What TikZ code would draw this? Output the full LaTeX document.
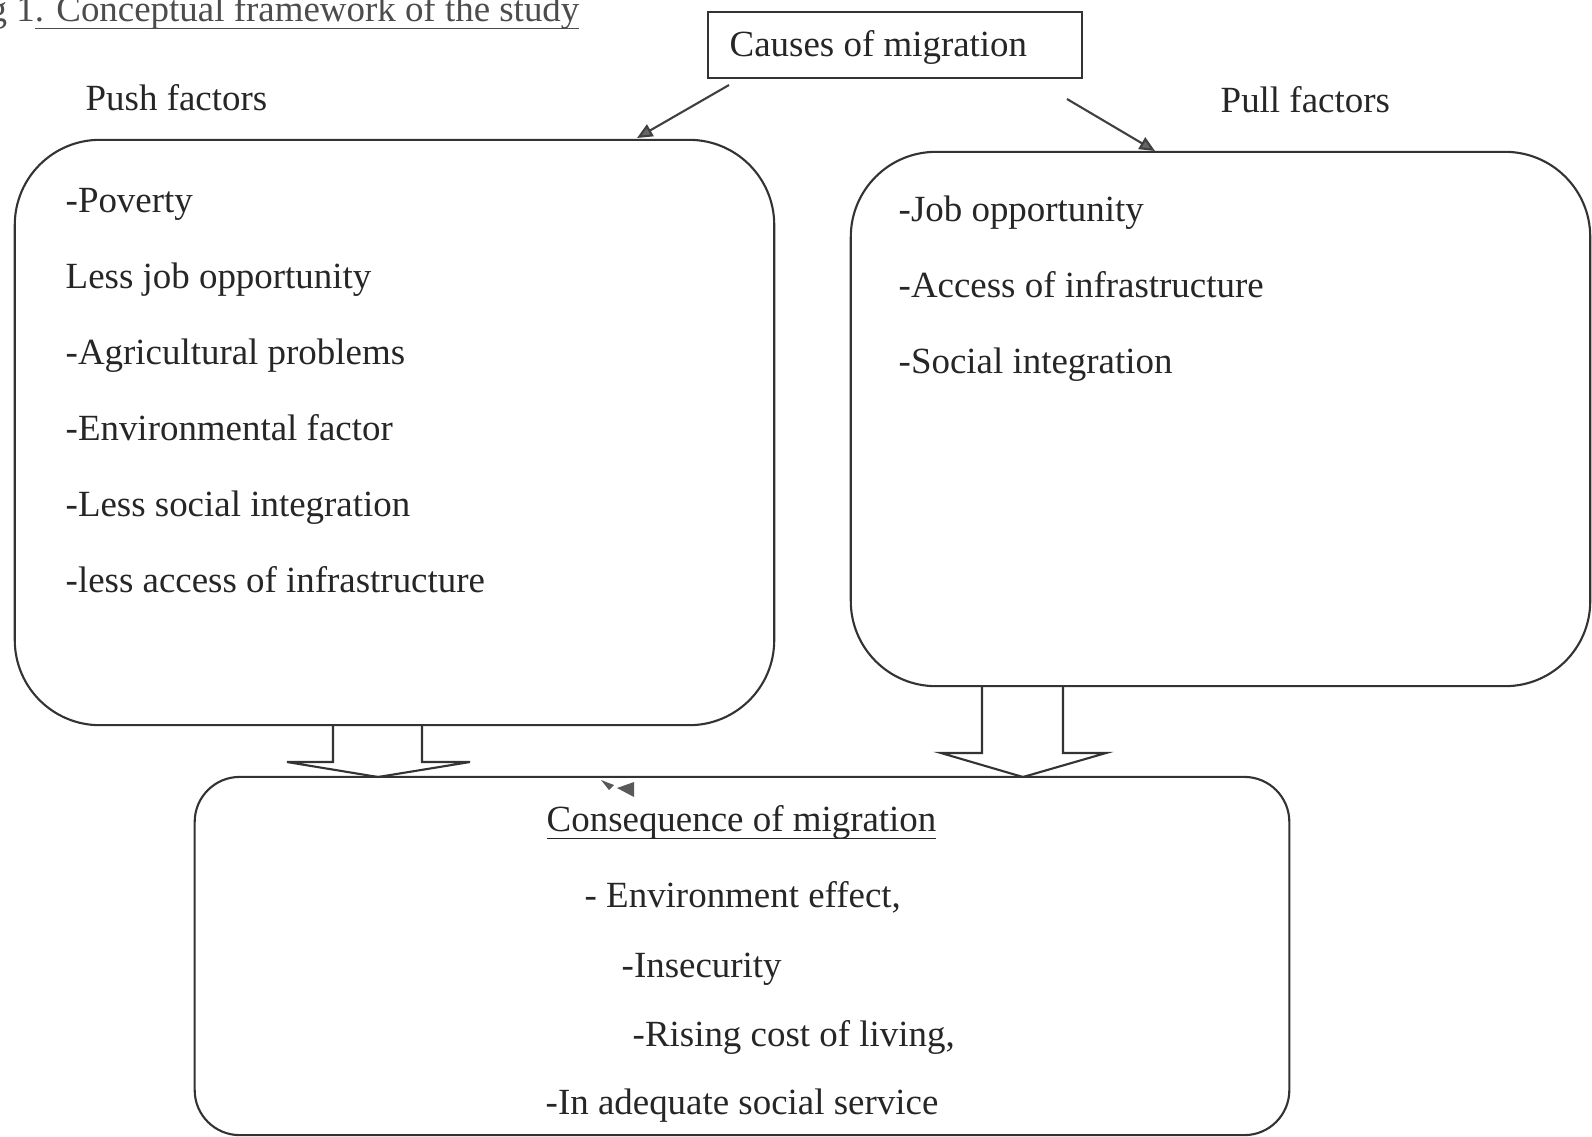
\documentclass[tikz,border=0pt]{standalone}
\usepackage{fontspec}
\usetikzlibrary{arrows.meta}
\setmainfont{Liberation Serif}
\newcommand\undl[1]{\setbox0\hbox{#1}\rlap{\rule[-2.4pt]{\wd0}{0.5pt}}\box0}
\tikzset{
  txt/.style={anchor=base west,inner sep=0pt,text=black!85,font=\fontsize{10.5}{12.6}\selectfont},
  roundbox/.style={draw=black!80,line width=0.6pt},
  blockarrow/.style={draw=black!80,line width=0.6pt}
}
\begin{document}
\begin{tikzpicture}[x=0.01cm,y=-0.01cm]
\useasboundingbox (0,0) rectangle (1592,1136);
\clip (0,0) rectangle (1592,1136);

\node[txt,text=black!70] at (-12,21) (title) {g 1\undl{. Conceptual framework of the study}};

% causes box
\node[draw=black!80,line width=0.5pt,minimum width=3.74cm,minimum height=0.66cm] at (895,45) (causes) {};
\node[txt] at (729,56) (causestxt) {Causes of migration};
\node[txt] at (85,110) (pushlbl) {Push factors};
\node[txt] at (1220,112) (pulllbl) {Pull factors};

% factor boxes
\node[roundbox,rounded corners=0.85cm,minimum width=7.59cm,minimum height=5.85cm] at (394.5,432.5) (push) {};
\node[roundbox,rounded corners=0.85cm,minimum width=7.39cm,minimum height=5.34cm] at (1220.5,419) (pull) {};
\node[roundbox,rounded corners=0.45cm,minimum width=10.94cm,minimum height=3.58cm] at (742,956) (conseq) {};

\foreach \t [count=\i] in {-Poverty,Less job opportunity,-Agricultural problems,-Environmental factor,-Less social integration,-less access of infrastructure}
    \node[txt] at (65,{212+76*(\i-1)}) (push\i) {\t};
\foreach \t [count=\i] in {-Job opportunity,-Access of infrastructure,-Social integration}
    \node[txt] at (898,{221+76*(\i-1)}) (pull\i) {\t};

\node[txt] at (546,831) (conseqlbl) {\undl{Consequence of migration}};
\node[txt] at (584,907) (conseq1) {- Environment effect,};
\node[txt] at (621,977) (conseq2) {-Insecurity};
\node[txt] at (632,1046) (conseq3) {-Rising cost of living,};
\node[txt] at (545,1114) (conseq4) {-In adequate social service};

% arrows from causes
\coordinate (c1) at (729,85);
\coordinate (c2) at (1067,99);
\coordinate (pushtop) at (637,138);
\coordinate (pulltop) at (1155,151);
\path[draw,black!75,line width=0.6pt,>={Triangle[length=4.4pt,width=3.8pt,fill=black!60]},->] (c1) -- (pushtop);
\path[draw,black!75,line width=0.6pt,>={Triangle[length=4.4pt,width=3.8pt,fill=black!60]},->] (c2) -- (pulltop);

% block arrows down
\draw[blockarrow] (333,725) -- (333,762) -- (287,762) -- (378,777) -- (470,762) -- (422,762) -- (422,725);
\draw[blockarrow] (982,686) -- (982,753) -- (941,753) -- (1023,777) -- (1106,753) -- (1063,753) -- (1063,686);

\fill[black!65] (601,780) -- (614,785) -- (609,790) -- cycle;
\fill[black!65] (617,788) -- (634,782) -- (634,797) -- cycle;
\end{tikzpicture}
\end{document}
